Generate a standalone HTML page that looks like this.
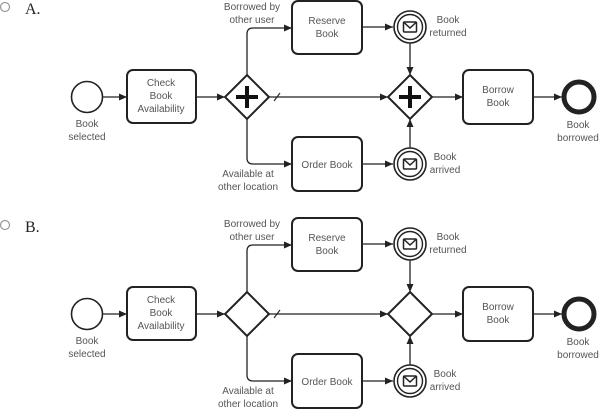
<!DOCTYPE html>
<html><head><meta charset="utf-8"><style>
html,body{margin:0;padding:0;background:#fff;}
svg{display:block;}
text{font-family:"Liberation Sans",sans-serif;font-size:10px;fill:#555;text-anchor:middle;}
.lbl{font-family:"Liberation Serif",serif;font-size:16px;fill:#222;text-anchor:start;}
</style></head><body>
<svg width="600" height="410" viewBox="0 0 600 410" xmlns="http://www.w3.org/2000/svg">
<defs>
<marker id="ar" markerWidth="8" markerHeight="7" refX="8" refY="3.5" orient="auto" markerUnits="userSpaceOnUse">
<path d="M0,0 L8,3.5 L0,7 z" fill="#222"/>
</marker>
<g id="env">
<rect x="-6.5" y="-5" width="13" height="10" rx="1" fill="none" stroke="#222" stroke-width="1.5"/>
<path d="M-6.5,-5 L0,1 L6.5,-5" fill="none" stroke="#222" stroke-width="1.5"/>
</g>
<g id="diag" fill="none" stroke="#222">
<!-- start -->
<circle cx="87" cy="97" r="15.5" stroke-width="1.6"/>
<line x1="103" y1="97" x2="127" y2="97" stroke-width="1.3" marker-end="url(#ar)"/>
<rect x="127" y="70" width="69" height="53" rx="6" stroke-width="2"/>
<line x1="196" y1="97" x2="225" y2="97" stroke-width="1.3" marker-end="url(#ar)"/>
<!-- split gateway -->
<polygon points="247,75 269,97 247,119 225,97" stroke-width="2" fill="#fff"/>
<!-- upper / lower flows -->
<path d="M247,75 V34 Q247,28 253,28 H292" stroke-width="1.3" marker-end="url(#ar)"/>
<path d="M247,119 V158 Q247,164 253,164 H292" stroke-width="1.3" marker-end="url(#ar)"/>
<!-- middle flow -->
<line x1="269" y1="97" x2="388" y2="97" stroke-width="1.3" marker-end="url(#ar)"/>
<line x1="274" y1="101" x2="280" y2="93" stroke-width="1.1"/>
<!-- reserve -->
<rect x="292" y="1" width="70" height="53" rx="6" stroke-width="2"/>
<line x1="362" y1="27" x2="393" y2="27" stroke-width="1.3" marker-end="url(#ar)"/>
<circle cx="410" cy="27" r="16" stroke-width="1.6"/>
<circle cx="410" cy="27" r="12.5" stroke-width="1.4"/>
<use href="#env" x="410" y="27"/>
<line x1="410" y1="43" x2="410" y2="75" stroke-width="1.3" marker-end="url(#ar)"/>
<!-- order -->
<rect x="292" y="137" width="70" height="54" rx="6" stroke-width="2"/>
<line x1="362" y1="164" x2="393" y2="164" stroke-width="1.3" marker-end="url(#ar)"/>
<circle cx="410" cy="164" r="16" stroke-width="1.6"/>
<circle cx="410" cy="164" r="12.5" stroke-width="1.4"/>
<use href="#env" x="410" y="164"/>
<line x1="410" y1="148" x2="410" y2="119" stroke-width="1.3" marker-end="url(#ar)"/>
<!-- join gateway -->
<polygon points="410,75 432,97 410,119 388,97" stroke-width="2" fill="#fff"/>
<line x1="432" y1="97" x2="463" y2="97" stroke-width="1.3" marker-end="url(#ar)"/>
<rect x="463" y="70" width="70" height="54" rx="6" stroke-width="2"/>
<line x1="533" y1="97" x2="562" y2="97" stroke-width="1.3" marker-end="url(#ar)"/>
<circle cx="579" cy="97" r="15" stroke-width="5"/>
</g>
<g id="txt">
<text x="87" y="127">Book</text>
<text x="87" y="140">selected</text>
<text x="161" y="86">Check</text>
<text x="161" y="99">Book</text>
<text x="161" y="112">Availability</text>
<text x="252" y="10">Borrowed by</text>
<text x="252" y="23">other user</text>
<text x="248" y="177">Available at</text>
<text x="248" y="190">other location</text>
<text x="327" y="24">Reserve</text>
<text x="327" y="37">Book</text>
<text x="327" y="168">Order Book</text>
<text x="448" y="23">Book</text>
<text x="448" y="36">returned</text>
<text x="445" y="160">Book</text>
<text x="445" y="173">arrived</text>
<text x="498" y="93">Borrow</text>
<text x="498" y="106">Book</text>
<text x="578" y="128">Book</text>
<text x="578" y="141">borrowed</text>
</g>
</defs>

<!-- Part A -->
<circle cx="5" cy="7" r="4.5" fill="none" stroke="#999" stroke-width="1.2"/>
<text class="lbl" x="25" y="14">A.</text>
<use href="#diag"/>
<use href="#txt"/>
<g stroke="#111" stroke-width="4">
<line x1="236" y1="97" x2="258" y2="97"/>
<line x1="247" y1="86" x2="247" y2="108"/>
<line x1="399" y1="97" x2="421" y2="97"/>
<line x1="410" y1="86" x2="410" y2="108"/>
</g>

<!-- Part B -->
<circle cx="5" cy="225" r="4.5" fill="none" stroke="#999" stroke-width="1.2"/>
<text class="lbl" x="25" y="232">B.</text>
<g transform="translate(0,217)">
<use href="#diag"/>
<use href="#txt"/>
</g>
</svg>
</body></html>
